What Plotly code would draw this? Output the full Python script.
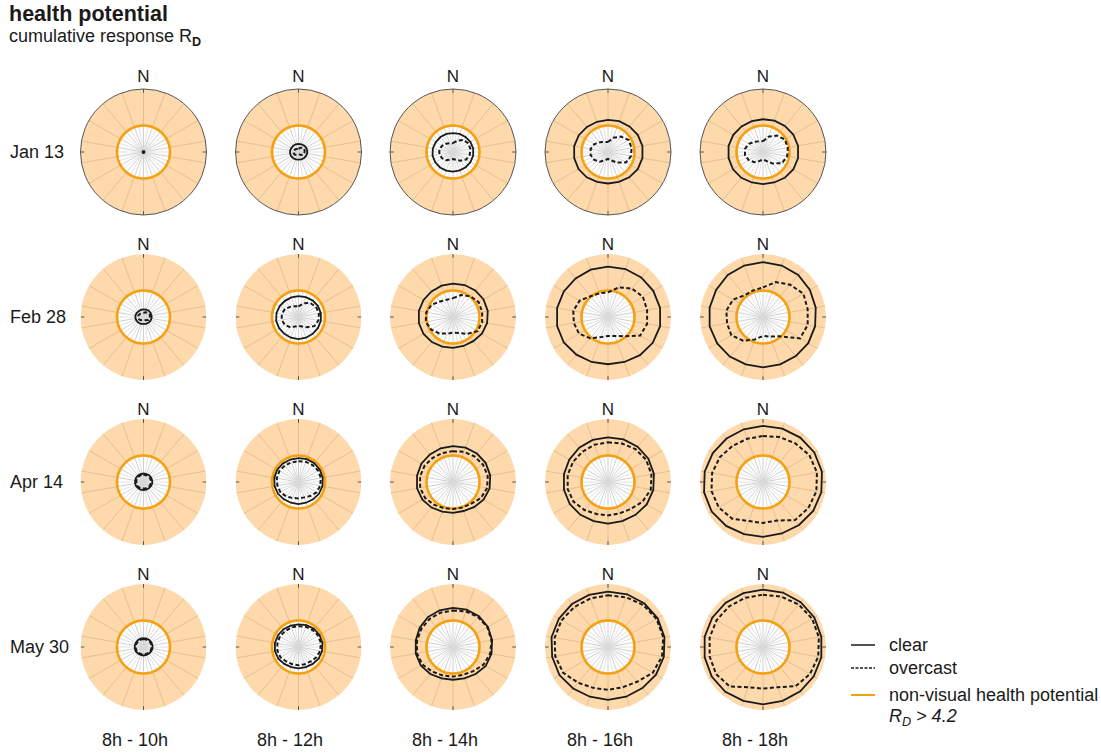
import numpy as np
import plotly.graph_objects as go

# ---------------------------------------------------------------------------
# Data: cumulative non-visual response R_D per view direction
# (degrees from north, clockwise), one list per time window.
# ---------------------------------------------------------------------------
directions = [0, 20, 40, 60, 80, 100, 120, 140, 160, 180, 200, 220, 240, 260, 280, 300, 320, 340]
dates = ["Jan 13", "Feb 28", "Apr 14", "May 30"]
periods = ["8h - 10h", "8h - 12h", "8h - 14h", "8h - 16h", "8h - 18h"]
threshold = 4.2
r_max = 10

clear_jan13 = [
    [0.15, 0.15, 0.15, 0.15, 0.15, 0.15, 0.15, 0.15, 0.15, 0.15, 0.15, 0.15, 0.15, 0.15, 0.15, 0.15, 0.15, 0.15],
    [1.3, 1.3, 1.35, 1.4, 1.4, 1.4, 1.35, 1.3, 1.25, 1.2, 1.25, 1.3, 1.35, 1.35, 1.35, 1.3, 1.3, 1.3],
    [3.0, 3.05, 3.1, 3.2, 3.25, 3.25, 3.2, 3.15, 3.1, 3.1, 3.15, 3.2, 3.25, 3.3, 3.25, 3.15, 3.1, 3.05],
    [5.1, 5.2, 5.3, 5.45, 5.55, 5.55, 5.45, 5.25, 5.05, 5.0, 5.05, 5.25, 5.4, 5.45, 5.45, 5.35, 5.2, 5.1],
    [5.2, 5.3, 5.4, 5.55, 5.65, 5.65, 5.55, 5.35, 5.15, 5.1, 5.15, 5.35, 5.5, 5.55, 5.55, 5.45, 5.3, 5.2],
]
overcast_jan13 = [
    [0.1, 0.1, 0.1, 0.1, 0.1, 0.1, 0.1, 0.1, 0.1, 0.1, 0.1, 0.1, 0.1, 0.1, 0.1, 0.1, 0.1, 0.1],
    [0.5, 0.7, 0.9, 1.0, 1.0, 0.95, 0.85, 0.6, 0.4, 0.35, 0.45, 0.6, 0.75, 0.8, 0.8, 0.7, 0.6, 0.5],
    [1.4, 1.9, 2.5, 2.8, 2.8, 2.7, 2.4, 1.8, 1.3, 1.1, 1.3, 1.7, 2.0, 2.2, 2.2, 2.0, 1.7, 1.5],
    [1.6, 2.4, 3.2, 3.8, 3.8, 3.7, 3.3, 2.2, 1.4, 1.1, 1.4, 2.0, 2.5, 2.8, 2.8, 2.5, 2.0, 1.7],
    [1.7, 2.6, 3.4, 4.0, 4.0, 3.9, 3.5, 2.4, 1.5, 1.2, 1.5, 2.1, 2.6, 2.9, 2.9, 2.6, 2.1, 1.8],
]

clear_feb28 = [
    [1.2, 1.25, 1.3, 1.3, 1.3, 1.3, 1.25, 1.2, 1.15, 1.1, 1.15, 1.2, 1.25, 1.3, 1.3, 1.25, 1.2, 1.2],
    [3.3, 3.35, 3.45, 3.55, 3.6, 3.6, 3.55, 3.5, 3.5, 3.5, 3.5, 3.5, 3.55, 3.6, 3.55, 3.45, 3.35, 3.3],
    [5.3, 5.4, 5.5, 5.6, 5.6, 5.5, 5.3, 5.0, 4.9, 4.9, 5.0, 5.2, 5.4, 5.5, 5.5, 5.4, 5.3, 5.3],
    [8.0, 8.1, 8.2, 8.3, 8.4, 8.4, 8.2, 7.9, 7.6, 7.5, 7.6, 7.8, 8.1, 8.2, 8.2, 8.1, 8.0, 8.0],
    [8.7, 8.7, 8.7, 8.6, 8.5, 8.4, 8.3, 8.1, 8.0, 8.0, 8.0, 8.2, 8.4, 8.6, 8.6, 8.6, 8.7, 8.7],
]
overcast_feb28 = [
    [0.6, 0.8, 0.95, 1.05, 1.05, 1.0, 0.9, 0.65, 0.5, 0.45, 0.5, 0.65, 0.8, 0.85, 0.85, 0.8, 0.7, 0.6],
    [1.7, 2.3, 2.9, 3.2, 3.3, 3.2, 2.9, 2.1, 1.6, 1.4, 1.6, 2.1, 2.5, 2.7, 2.7, 2.5, 2.1, 1.8],
    [3.0, 3.7, 4.3, 4.7, 4.7, 4.7, 4.5, 3.5, 2.7, 2.5, 2.8, 3.4, 4.0, 4.4, 4.3, 3.9, 3.2, 2.9],
    [3.9, 5.0, 5.9, 6.4, 6.3, 6.3, 5.9, 4.0, 3.2, 3.0, 3.4, 4.4, 5.3, 5.5, 5.6, 5.2, 4.3, 4.0],
    [4.7, 5.9, 6.7, 7.4, 7.2, 7.2, 6.8, 4.0, 3.3, 3.0, 3.8, 4.9, 5.8, 5.8, 5.9, 5.5, 4.5, 4.5],
]

clear_apr14 = [
    [1.35, 1.35, 1.4, 1.4, 1.4, 1.4, 1.35, 1.3, 1.3, 1.3, 1.3, 1.3, 1.35, 1.35, 1.35, 1.35, 1.35, 1.35],
    [3.8, 3.85, 3.9, 3.9, 3.9, 3.85, 3.75, 3.6, 3.5, 3.5, 3.5, 3.6, 3.75, 3.85, 3.9, 3.9, 3.85, 3.8],
    [5.7, 5.8, 5.9, 6.0, 6.0, 5.9, 5.6, 5.2, 4.9, 4.9, 5.0, 5.3, 5.6, 5.8, 5.8, 5.8, 5.7, 5.7],
    [7.1, 7.2, 7.3, 7.4, 7.4, 7.3, 7.1, 6.8, 6.6, 6.6, 6.6, 6.8, 7.0, 7.1, 7.1, 7.1, 7.1, 7.1],
    [8.9, 9.0, 9.2, 9.4, 9.5, 9.4, 9.2, 8.9, 8.7, 8.7, 8.8, 9.1, 9.4, 9.5, 9.4, 9.2, 9.0, 8.9],
]
overcast_apr14 = [
    [1.15, 1.15, 1.2, 1.2, 1.2, 1.2, 1.15, 1.1, 1.05, 1.05, 1.05, 1.1, 1.15, 1.15, 1.15, 1.15, 1.15, 1.15],
    [3.3, 3.4, 3.5, 3.6, 3.6, 3.5, 3.3, 2.9, 2.6, 2.6, 2.7, 3.0, 3.3, 3.4, 3.5, 3.5, 3.4, 3.3],
    [4.9, 5.1, 5.3, 5.5, 5.6, 5.5, 5.1, 4.5, 4.3, 4.3, 4.4, 4.7, 5.1, 5.3, 5.3, 5.2, 5.0, 4.9],
    [6.3, 6.5, 6.8, 7.0, 7.0, 6.9, 6.3, 5.6, 5.3, 5.3, 5.4, 5.8, 6.3, 6.5, 6.5, 6.4, 6.3, 6.3],
    [7.3, 7.6, 8.0, 8.5, 8.7, 8.6, 8.3, 7.9, 6.5, 6.5, 6.6, 7.6, 8.1, 8.3, 8.2, 7.9, 7.5, 7.3],
]

clear_may30 = [
    [1.4, 1.4, 1.45, 1.45, 1.45, 1.45, 1.4, 1.35, 1.35, 1.35, 1.35, 1.35, 1.4, 1.4, 1.4, 1.4, 1.4, 1.4],
    [3.6, 3.7, 3.8, 3.85, 3.85, 3.8, 3.7, 3.5, 3.4, 3.4, 3.4, 3.5, 3.7, 3.8, 3.8, 3.75, 3.7, 3.6],
    [6.2, 6.3, 6.4, 6.4, 6.3, 6.2, 6.0, 5.6, 5.3, 5.2, 5.3, 5.6, 5.9, 6.0, 6.0, 6.1, 6.2, 6.2],
    [8.8, 8.9, 9.0, 9.1, 9.1, 9.0, 8.8, 8.5, 8.4, 8.4, 8.4, 8.6, 8.9, 9.0, 9.1, 9.0, 8.9, 8.8],
    [9.1, 9.2, 9.3, 9.4, 9.4, 9.4, 9.3, 9.2, 9.1, 9.1, 9.1, 9.3, 9.4, 9.4, 9.4, 9.3, 9.2, 9.1],
]
overcast_may30 = [
    [1.25, 1.25, 1.3, 1.3, 1.3, 1.3, 1.25, 1.2, 1.2, 1.2, 1.2, 1.2, 1.25, 1.25, 1.25, 1.25, 1.25, 1.25],
    [3.3, 3.4, 3.5, 3.6, 3.6, 3.5, 3.3, 3.0, 2.9, 2.9, 2.9, 3.0, 3.3, 3.4, 3.4, 3.4, 3.3, 3.3],
    [5.8, 6.0, 6.2, 6.3, 6.2, 6.0, 5.6, 5.0, 4.7, 4.7, 4.8, 5.1, 5.6, 5.8, 5.8, 5.8, 5.8, 5.8],
    [8.2, 8.4, 8.7, 8.9, 8.9, 8.7, 8.2, 7.2, 6.8, 6.8, 6.9, 7.4, 8.2, 8.5, 8.6, 8.5, 8.3, 8.2],
    [8.3, 8.5, 8.8, 9.0, 9.0, 8.9, 8.6, 8.1, 6.8, 6.6, 6.8, 8.2, 8.6, 8.6, 8.6, 8.5, 8.4, 8.3],
]

clear_rows = [clear_jan13, clear_feb28, clear_apr14, clear_may30]
overcast_rows = [overcast_jan13, overcast_feb28, overcast_apr14, overcast_may30]

# ---------------------------------------------------------------------------
# Styling / layout constants
# ---------------------------------------------------------------------------
W, H = 1101, 756
col_x = [143.5, 298.5, 453, 608, 763]      # subplot centres, px
row_y = [152, 317, 482, 647]
R_PX = 63                                   # subplot radius, px

FONT = "Liberation Sans, Arial, sans-serif"
INK = "#1a1a1a"
ORANGE = "#f5a011"
BAND = "rgba(250,170,70,0.45)"
GRID = "#d0d0d0"
GRID_FINE = "#dadada"
TICK = "#555555"


def closed(values):
    return list(values) + [values[0]]


circle_theta = np.arange(0, 361, 2)
inner_theta = [a + 10 for a in directions]
spoke_r, spoke_t = [], []
for a in inner_theta:
    spoke_r += [0, threshold, None]
    spoke_t += [a, a, None]
tick_r, tick_t = [], []
for a in (0, 90, 180, 270):
    tick_r += [r_max * 0.94, r_max, None]
    tick_t += [a, a, None]

fig = go.Figure()
layout_polars = {}

for i in range(len(dates)):
    for j in range(len(periods)):
        k = i * len(periods) + j + 1
        sub = "polar" if k == 1 else f"polar{k}"

        # band above the health-potential threshold
        fig.add_trace(go.Barpolar(
            r=[r_max - threshold], base=[threshold], theta=[0], width=[360],
            marker=dict(color=BAND, line=dict(width=0)),
            subplot=sub, showlegend=False, hoverinfo="skip"))
        # finer spokes inside the threshold circle
        fig.add_trace(go.Scatterpolar(
            r=spoke_r, theta=spoke_t, mode="lines",
            line=dict(color=GRID_FINE, width=0.8), connectgaps=False,
            subplot=sub, showlegend=False, hoverinfo="skip"))
        # compass ticks
        fig.add_trace(go.Scatterpolar(
            r=tick_r, theta=tick_t, mode="lines",
            line=dict(color=TICK, width=1), connectgaps=False,
            subplot=sub, showlegend=False, hoverinfo="skip"))
        # threshold circle
        fig.add_trace(go.Scatterpolar(
            r=[threshold] * len(circle_theta), theta=circle_theta, mode="lines",
            line=dict(color=ORANGE, width=2.6),
            subplot=sub, showlegend=False, hoverinfo="skip"))
        # clear sky
        fig.add_trace(go.Scatterpolar(
            r=closed(clear_rows[i][j]), theta=closed(directions), mode="lines",
            line=dict(color=INK, width=1.8),
            subplot=sub, showlegend=False))
        # overcast sky
        fig.add_trace(go.Scatterpolar(
            r=closed(overcast_rows[i][j]), theta=closed(directions), mode="lines",
            line=dict(color=INK, width=2.0, dash="4px,2.5px"),
            subplot=sub, showlegend=False))

        cx, cy = col_x[j], row_y[i]
        layout_polars[sub] = dict(
            domain=dict(x=[(cx - R_PX) / W, (cx + R_PX) / W],
                        y=[1 - (cy + R_PX) / H, 1 - (cy - R_PX) / H]),
            bgcolor="white",
            hole=0,
            radialaxis=dict(range=[0, r_max], visible=False),
            angularaxis=dict(
                rotation=90, direction="clockwise",
                tickmode="array", tickvals=directions,
                ticktext=["N"] + [""] * (len(directions) - 1),
                tickfont=dict(family=FONT, size=17, color=INK),
                ticks="", showgrid=True, gridcolor=GRID, gridwidth=1,
                showline=(i == 0), linecolor=TICK, linewidth=1),
        )

fig.update_layout(**layout_polars)

annotations = [
    dict(x=7, y=14, text="<b>health potential</b>", font=dict(size=21.5)),
    dict(x=7, y=37, text="cumulative response R<sub><b>D</b></sub>", font=dict(size=18)),
]
for i, date in enumerate(dates):
    annotations.append(dict(x=8, y=row_y[i], text=date, font=dict(size=18)))
for j, period in enumerate(periods):
    annotations.append(dict(x=col_x[j] - 8.5, y=740, text=period, font=dict(size=18), xanchor="center"))

# legend
leg_x0, leg_x1, leg_tx = 851, 875, 887
legend_items = [
    (645, "clear", dict(color=INK, width=1.5)),
    (668, "overcast", dict(color=INK, width=1.5, dash="3px,1.5px")),
    (695, "non-visual health potential", dict(color=ORANGE, width=2)),
]
shapes = []
for y, label, line in legend_items:
    shapes.append(dict(type="line", xref="paper", yref="paper",
                       x0=leg_x0 / W, x1=leg_x1 / W, y0=1 - y / H, y1=1 - y / H, line=line))
    annotations.append(dict(x=leg_tx, y=y, text=label, font=dict(size=18)))
annotations.append(dict(x=leg_tx, y=717, text="<i>R<sub>D</sub> > 4.2</i>", font=dict(size=18)))

for a in annotations:
    a.setdefault("xanchor", "left")
    a["font"] = dict(family=FONT, color=INK, **a["font"])
    a.update(xref="paper", yref="paper", x=a["x"] / W, y=1 - a["y"] / H,
             yanchor="middle", showarrow=False)

fig.update_layout(
    width=W, height=H,
    margin=dict(l=0, r=0, t=0, b=0),
    paper_bgcolor="white",
    font=dict(family=FONT, color=INK),
    showlegend=False,
    annotations=annotations,
    shapes=shapes,
)

fig.write_html("out.html")
